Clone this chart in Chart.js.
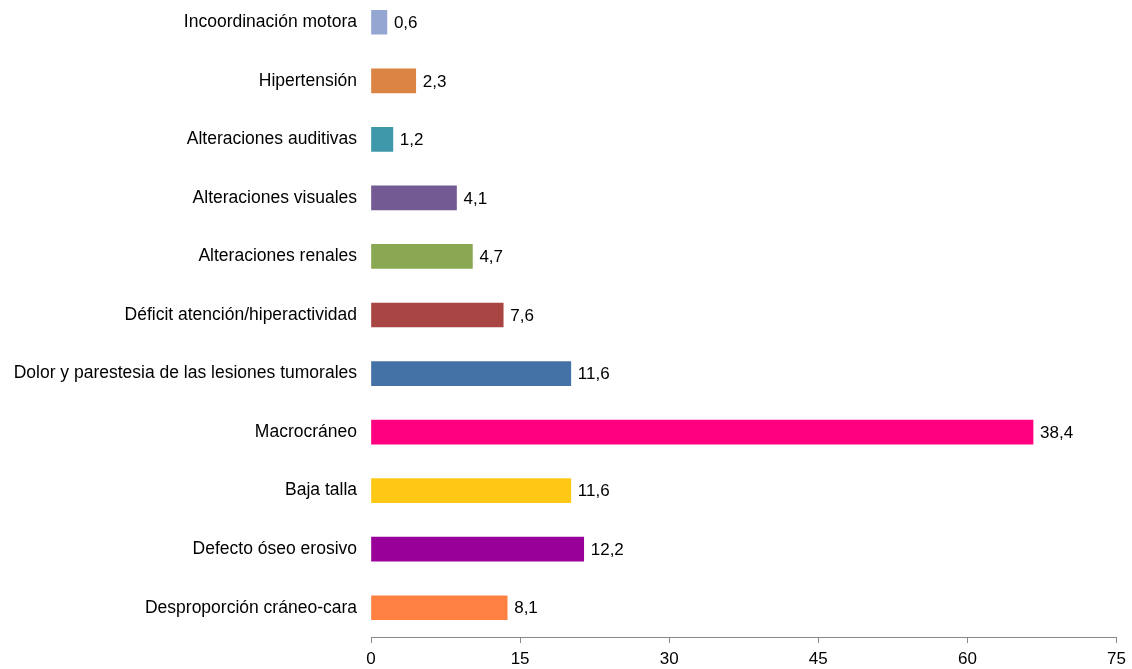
<!DOCTYPE html>
<html>
<head>
<meta charset="utf-8">
<script src="https://cdn.jsdelivr.net/npm/chart.js@4/dist/chart.umd.min.js"></script>
<style>
  html, body { margin: 0; padding: 0; background: #fff; overflow: hidden; }
  #wrap { position: absolute; left: 0; top: -7px; width: 1132px; height: 676px; }
</style>
</head>
<body>
<div id="wrap"><canvas id="chart"></canvas></div>
<script>
// ---- DATOS ----
var categorias = [
  'Incoordinación motora',
  'Hipertensión',
  'Alteraciones auditivas',
  'Alteraciones visuales',
  'Alteraciones renales',
  'Déficit atención/hiperactividad',
  'Dolor y parestesia de las lesiones tumorales',
  'Macrocráneo',
  'Baja talla',
  'Defecto óseo erosivo',
  'Desproporción cráneo-cara'
];
// longitud de barra leída sobre el eje (0-75)
var valores = [1.6, 4.5, 2.2, 8.6, 10.2, 13.3, 20.1, 66.6, 20.1, 21.4, 13.7];
// etiqueta mostrada junto a cada barra
var etiquetas = ['0,6', '2,3', '1,2', '4,1', '4,7', '7,6', '11,6', '38,4', '11,6', '12,2', '8,1'];
var colores = ['#94a7d3', '#dc8443', '#3e98aa', '#735a93', '#8aa852', '#a94543',
               '#4472a7', '#ff0080', '#ffc815', '#990099', '#ff8142'];
var ticksX = [0, 15, 30, 45, 60, 75];

var FUENTE = '"Liberation Sans", Arial, sans-serif';

// ---- ETIQUETAS DE VALOR ----
var etiquetasPlugin = {
  id: 'etiquetas',
  afterDatasetsDraw: function(chart) {
    var ctx = chart.ctx;
    var meta = chart.getDatasetMeta(0);
    ctx.save();
    ctx.font = '17px ' + FUENTE;
    ctx.fillStyle = '#000';
    ctx.textAlign = 'left';
    ctx.textBaseline = 'middle';
    meta.data.forEach(function(bar, i) {
      ctx.fillText(etiquetas[i], bar.x + 7, bar.y + 1);
    });
    ctx.restore();
  }
};

new Chart(document.getElementById('chart'), {
  type: 'bar',
  data: {
    labels: categorias,
    datasets: [{
      data: valores,
      backgroundColor: colores,
      borderWidth: 0,
      barThickness: 24
    }]
  },
  options: {
    indexAxis: 'y',
    responsive: true,
    maintainAspectRatio: false,
    animation: false,
    layout: { padding: { left: 0, right: 13, top: 0, bottom: 0 } },
    plugins: {
      legend: { display: false },
      tooltip: { enabled: false }
    },
    scales: {
      x: {
        min: 0,
        max: 75,
        afterBuildTicks: function(s) { s.ticks = ticksX.map(function(v) { return { value: v }; }); },
        afterFit: function(s) { s.height = 32; },
        grid: { display: true, drawOnChartArea: false, drawTicks: true, tickLength: 6, color: '#888' },
        border: { display: true, color: '#888', width: 1 },
        ticks: { color: '#000', padding: 6, maxRotation: 0, font: { family: FUENTE, size: 17 } }
      },
      y: {
        afterFit: function(s) { s.width = 371; s.paddingTop = 0; s.paddingBottom = 0; },
        grid: { display: false, drawTicks: false },
        border: { display: false },
        ticks: { color: '#000', padding: 14, font: { family: FUENTE, size: 17.5 } }
      }
    }
  },
  plugins: [etiquetasPlugin]
});
</script>
</body>
</html>
